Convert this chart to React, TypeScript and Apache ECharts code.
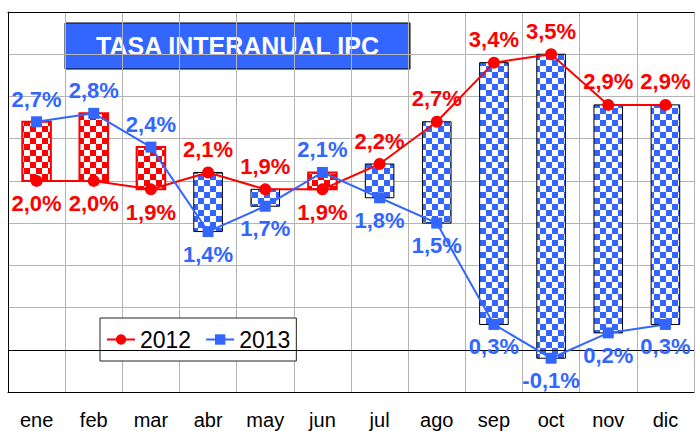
import React, { useEffect, useRef } from "react";
import * as echarts from "echarts";

const months = ["ene", "feb", "mar", "abr", "may", "jun", "jul", "ago", "sep", "oct", "nov", "dic"];
const ipc2012 = [2.0, 2.0, 1.9, 2.1, 1.9, 1.9, 2.2, 2.7, 3.4, 3.5, 2.9, 2.9];
const ipc2013 = [2.7, 2.8, 2.4, 1.4, 1.7, 2.1, 1.8, 1.5, 0.3, -0.1, 0.2, 0.3];
const titleText = "TASA INTERANUAL IPC";

const RED = "#ff0000";
const BLUE = "#3366ff";
const FONT = "'Liberation Sans', Arial, sans-serif";

function makeChecker(color: string, cell: number) {
  const c = document.createElement("canvas");
  c.width = cell * 2;
  c.height = cell * 2;
  const ctx = c.getContext("2d")!;
  ctx.fillStyle = "#ffffff";
  ctx.fillRect(0, 0, cell * 2, cell * 2);
  ctx.fillStyle = color;
  ctx.fillRect(0, 0, cell, cell);
  ctx.fillRect(cell, cell, cell, cell);
  return c;
}

const fmt = (v: number) => v.toFixed(1).replace(".", ",") + "%";

export default function App() {
  const ref = useRef<HTMLDivElement>(null);
  useEffect(() => {
    if (!ref.current) return;
    const chart = echarts.init(ref.current, undefined, { renderer: "svg" });
    const redPat = { image: makeChecker(RED, 6), repeat: "repeat" };
    const bluePat = { image: makeChecker(BLUE, 6), repeat: "repeat" };

    const d2012 = ipc2012.map((v, i) => ({
      value: v,
      label: { position: v >= ipc2013[i] ? "top" : "bottom" },
    }));
    const d2013 = ipc2013.map((v, i) => ({
      value: v,
      label: { position: v > ipc2012[i] ? "top" : "bottom" },
    }));
    const diff = months.map((_, i) => [i, ipc2012[i], ipc2013[i]]);

    const labelBase = {
      show: true,
      fontFamily: FONT,
      fontSize: 22,
      fontWeight: "bold",
      distance: 6,
      formatter: (p: any) => fmt(p.value),
    };

    chart.setOption({
      animation: false,
      backgroundColor: "#ffffff",
      grid: { left: 8, top: 12, width: 686, height: 380, containLabel: false },
      xAxis: [
        {
          type: "category",
          data: months,
          boundaryGap: true,
          position: "bottom",
          axisLine: { show: true, onZero: false, lineStyle: { color: "#000", width: 1 } },
          axisTick: { show: false },
          axisLabel: { color: "#000", fontFamily: FONT, fontSize: 20, margin: 18 },
          splitLine: { show: true, interval: 0, lineStyle: { color: "#b4b4b4", width: 1 } },
        },
        {
          type: "category",
          data: months,
          position: "top",
          axisLine: { show: true, onZero: false, lineStyle: { color: "#000", width: 1 } },
          axisTick: { show: false },
          axisLabel: { show: false },
          splitLine: { show: false },
        },
      ],
      yAxis: {
        type: "value",
        min: -0.5,
        max: 4,
        interval: 0.5,
        axisLine: { show: true, lineStyle: { color: "#000", width: 1 } },
        axisTick: { show: false },
        axisLabel: { show: false },
        splitLine: { show: true, lineStyle: { color: "#b4b4b4", width: 1 } },
      },
      legend: {
        data: ["2012", "2013"],
        left: 100,
        top: 318,
        orient: "horizontal",
        itemWidth: 28,
        itemHeight: 13,
        itemGap: 14,
        padding: [10, 6],
        backgroundColor: "#ffffff",
        borderColor: "#222",
        borderWidth: 1,
        borderRadius: 0,
        textStyle: { color: "#000", fontFamily: FONT, fontSize: 23 },
      },
      graphic: [
        {
          type: "group",
          z: 100,
          children: [
            {
              type: "rect",
              shape: { x: 65, y: 23, width: 345, height: 46 },
              style: { fill: BLUE, stroke: "#000", lineWidth: 1 },
            },
            {
              type: "text",
              x: 237.5,
              y: 46,
              style: {
                text: titleText,
                fill: "#ffffff",
                font: `bold 25px ${FONT}`,
                align: "center",
                verticalAlign: "middle",
              },
            },
          ],
        },
      ],
      series: [
        {
          type: "line",
          name: "zero",
          data: [],
          z: 1,
          silent: true,
          markLine: {
            silent: true,
            symbol: "none",
            label: { show: false },
            lineStyle: { color: "#000", width: 1, type: "solid" },
            data: [{ yAxis: 0 }],
          },
        },
        {
          type: "custom",
          name: "diff",
          z: 3,
          data: diff,
          encode: { x: 0, y: [1, 2] },
          renderItem: (params: any, api: any) => {
            const i = api.value(0);
            const a = api.value(1);
            const b = api.value(2);
            const p1 = api.coord([i, a]);
            const p2 = api.coord([i, b]);
            const w = api.size([1, 0])[0] * 0.5;
            const up = b > a;
            return {
              type: "rect",
              shape: {
                x: p1[0] - w / 2,
                y: Math.min(p1[1], p2[1]),
                width: w,
                height: Math.abs(p1[1] - p2[1]),
              },
              style: {
                fill: up ? redPat : bluePat,
                stroke: up ? RED : "#000",
                lineWidth: up ? 2 : 1,
              },
            };
          },
        },
        {
          type: "line",
          name: "2012",
          z: 5,
          data: d2012,
          symbol: "circle",
          symbolSize: 12,
          itemStyle: { color: RED },
          lineStyle: { color: RED, width: 2 },
          label: { ...labelBase, color: RED },
        },
        {
          type: "line",
          name: "2013",
          z: 6,
          data: d2013,
          symbol: "rect",
          symbolSize: 11,
          itemStyle: { color: BLUE },
          lineStyle: { color: BLUE, width: 2 },
          label: { ...labelBase, color: BLUE },
        },
      ],
    });
    return () => chart.dispose();
  }, []);
  return <div ref={ref} style={{ width: 696, height: 431, position: "absolute", left: 0, top: 0 }} />;
}
